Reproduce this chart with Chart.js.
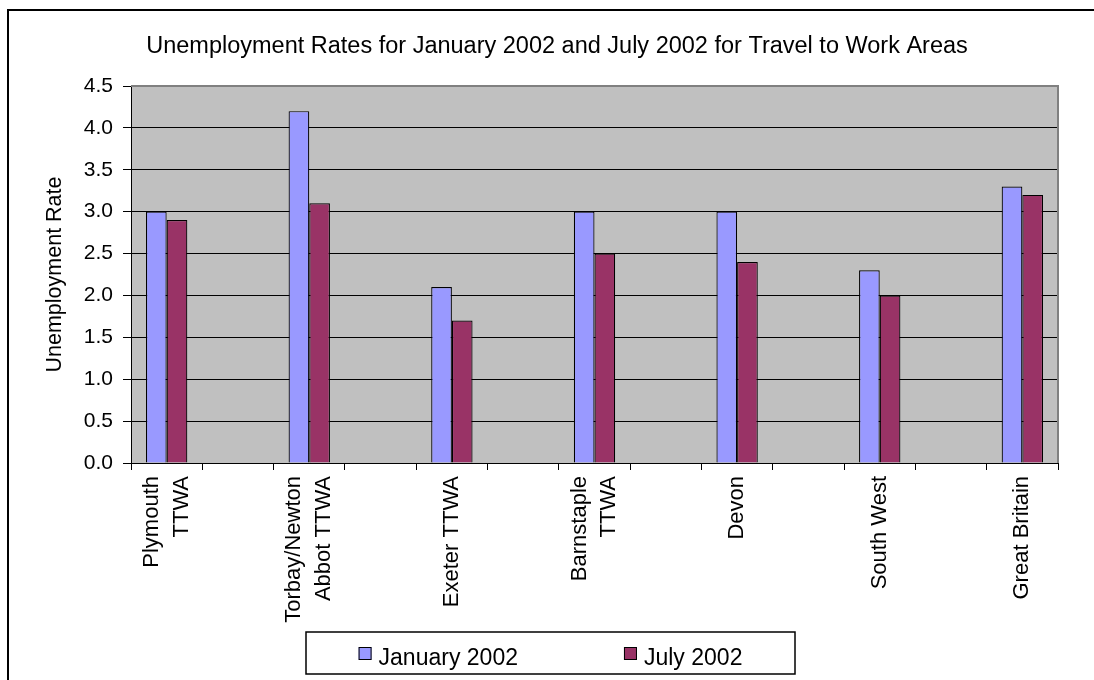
<!DOCTYPE html>
<html>
<head>
<meta charset="utf-8">
<script src="https://cdn.jsdelivr.net/npm/chart.js@4.4.1/dist/chart.umd.min.js"></script>
<style>
  html, body { margin: 0; padding: 0; background: #fff; overflow: hidden; }
  canvas { display: block; }
</style>
</head>
<body>
<canvas id="chart" width="1094" height="680"></canvas>
<script>
/* Unemployment rates, Travel to Work Areas — Excel 2002-style clustered bars */

var CATEGORIES = [
  ['Plymouth', 'TTWA'],
  ['Torbay/Newton', 'Abbot TTWA'],
  'Exeter TTWA',
  ['Barnstaple', 'TTWA'],
  'Devon',
  'South West',
  'Great Britain'
];
var JAN_2002 = [3.0, 4.2, 2.1, 3.0, 3.0, 2.3, 3.3];
var JUL_2002 = [2.9, 3.1, 1.7, 2.5, 2.4, 2.0, 3.2];
var SERIES_NAMES = ['January 2002', 'July 2002'];
var Y_MIN = 0, Y_MAX = 4.5, Y_STEP = 0.5;

var FONT = '"Liberation Sans", Arial, sans-serif';
var INK = {
  jan: '#9999FF',
  jul: '#993366',
  plot: '#C0C0C0',
  plotEdge: '#808080',
  text: '#000000'
};

// the original leaves an empty category slot between every group
function withGaps(arr, blank) {
  var out = [];
  arr.forEach(function (v, i) {
    if (i > 0) out.push(blank);
    out.push(v);
  });
  return out;
}

// grey plot area, grey top/right edge, black outer chart frame
var excelFrame = {
  id: 'excelFrame',
  beforeDraw: function (chart) {
    var ctx = chart.ctx, a = chart.chartArea;
    ctx.save();
    ctx.fillStyle = INK.plot;
    ctx.fillRect(a.left, a.top, a.right - a.left, a.bottom - a.top);
    ctx.strokeStyle = '#000';
    ctx.lineWidth = 2;
    ctx.beginPath();
    ctx.moveTo(8, chart.height);
    ctx.lineTo(8, 10);
    ctx.lineTo(chart.width, 10);
    ctx.stroke();
    ctx.restore();
  },
  afterDraw: function (chart) {
    var ctx = chart.ctx, a = chart.chartArea;
    ctx.save();
    ctx.strokeStyle = INK.plotEdge;
    ctx.lineWidth = 2;
    ctx.beginPath();
    ctx.moveTo(a.left, a.top);
    ctx.lineTo(a.right, a.top);
    ctx.lineTo(a.right, a.bottom);
    ctx.stroke();
    ctx.restore();
  }
};

// Chart.js starts rotated multi-line labels at the tick; Excel centres the block on it
var centreRotatedLabels = {
  id: 'centreRotatedLabels',
  afterLayout: function (chart) {
    var scale = chart.scales.x;
    var items = scale.getLabelItems();
    items.forEach(function (it) {
      var lines = Array.isArray(it.label) ? it.label.length : 1;
      if (lines > 1) it.textOffset -= (lines - 1) * it.font.lineHeight / 2;
    });
  }
};

// boxed legend with wide spacing between the two entries
var excelLegend = {
  id: 'excelLegend',
  afterDraw: function (chart) {
    var ctx = chart.ctx;
    var cx = 550.5, top = 632, w = 489, h = 42;
    var box = 13, gap = 7, spacing = 106;
    ctx.save();
    ctx.fillStyle = '#fff';
    ctx.strokeStyle = '#000';
    ctx.lineWidth = 1.5;
    ctx.fillRect(cx - w / 2, top, w, h);
    ctx.strokeRect(cx - w / 2, top, w, h);

    ctx.font = '23px ' + FONT;
    var items = chart.data.datasets.map(function (ds) {
      return { text: ds.label, color: ds.backgroundColor,
               width: box + gap + ctx.measureText(ds.label).width };
    });
    var total = items.reduce(function (s, it) { return s + it.width; }, 0) + spacing * (items.length - 1);
    var x = cx - total / 2;
    ctx.textBaseline = 'alphabetic';
    ctx.textAlign = 'left';
    items.forEach(function (it) {
      ctx.fillStyle = it.color;
      ctx.fillRect(x, top + 15, box, box);
      ctx.lineWidth = 1;
      ctx.strokeRect(x + 0.5, top + 15.5, box - 1, box - 1);
      ctx.fillStyle = INK.text;
      ctx.fillText(it.text, x + box + gap, top + 33);
      x += it.width + spacing;
    });
    ctx.restore();
  }
};

new Chart(document.getElementById('chart').getContext('2d'), {
  type: 'bar',
  data: {
    labels: withGaps(CATEGORIES, ''),
    datasets: [
      { label: SERIES_NAMES[0], data: withGaps(JAN_2002, null),
        backgroundColor: INK.jan, borderColor: '#000', borderWidth: 1.2 },
      { label: SERIES_NAMES[1], data: withGaps(JUL_2002, null),
        backgroundColor: INK.jul, borderColor: '#000', borderWidth: 1.2 }
    ]
  },
  options: {
    responsive: false,
    animation: false,
    categoryPercentage: 0.58,
    barPercentage: 1.0,
    layout: { padding: { left: 56, right: 36, top: 0, bottom: 47 } },
    plugins: {
      legend: { display: false },
      tooltip: { enabled: false },
      title: {
        display: true,
        text: 'Unemployment Rates for January 2002 and July 2002 for Travel to Work Areas',
        color: INK.text,
        font: { family: FONT, size: 23.5, weight: 'normal' },
        padding: { top: 32.5, bottom: 25.3 }
      }
    },
    scales: {
      x: {
        grid: { display: true, drawOnChartArea: false, drawTicks: true,
                tickLength: 7, color: '#000', offset: true },
        border: { color: '#000', width: 1 },
        ticks: {
          color: INK.text, autoSkip: false, minRotation: 90, maxRotation: 90,
          padding: 6, font: { family: FONT, size: 22, lineHeight: 1.35 }
        },
        afterFit: function (scale) { scale.height = 170; }
      },
      y: {
        min: Y_MIN, max: Y_MAX,
        grid: { color: '#000', tickLength: 8 },
        border: { color: '#000', width: 1 },
        ticks: {
          stepSize: Y_STEP, color: INK.text, padding: 10,
          font: { family: FONT, size: 21 },
          callback: function (v) { return v.toFixed(1); }
        },
        title: {
          display: true, text: 'Unemployment Rate', color: INK.text,
          font: { family: FONT, size: 21.5 }, padding: { top: -14, bottom: 0 }
        },
        afterFit: function (scale) { scale.width = 75; }
      }
    }
  },
  plugins: [excelFrame, centreRotatedLabels, excelLegend]
});
</script>
</body>
</html>
